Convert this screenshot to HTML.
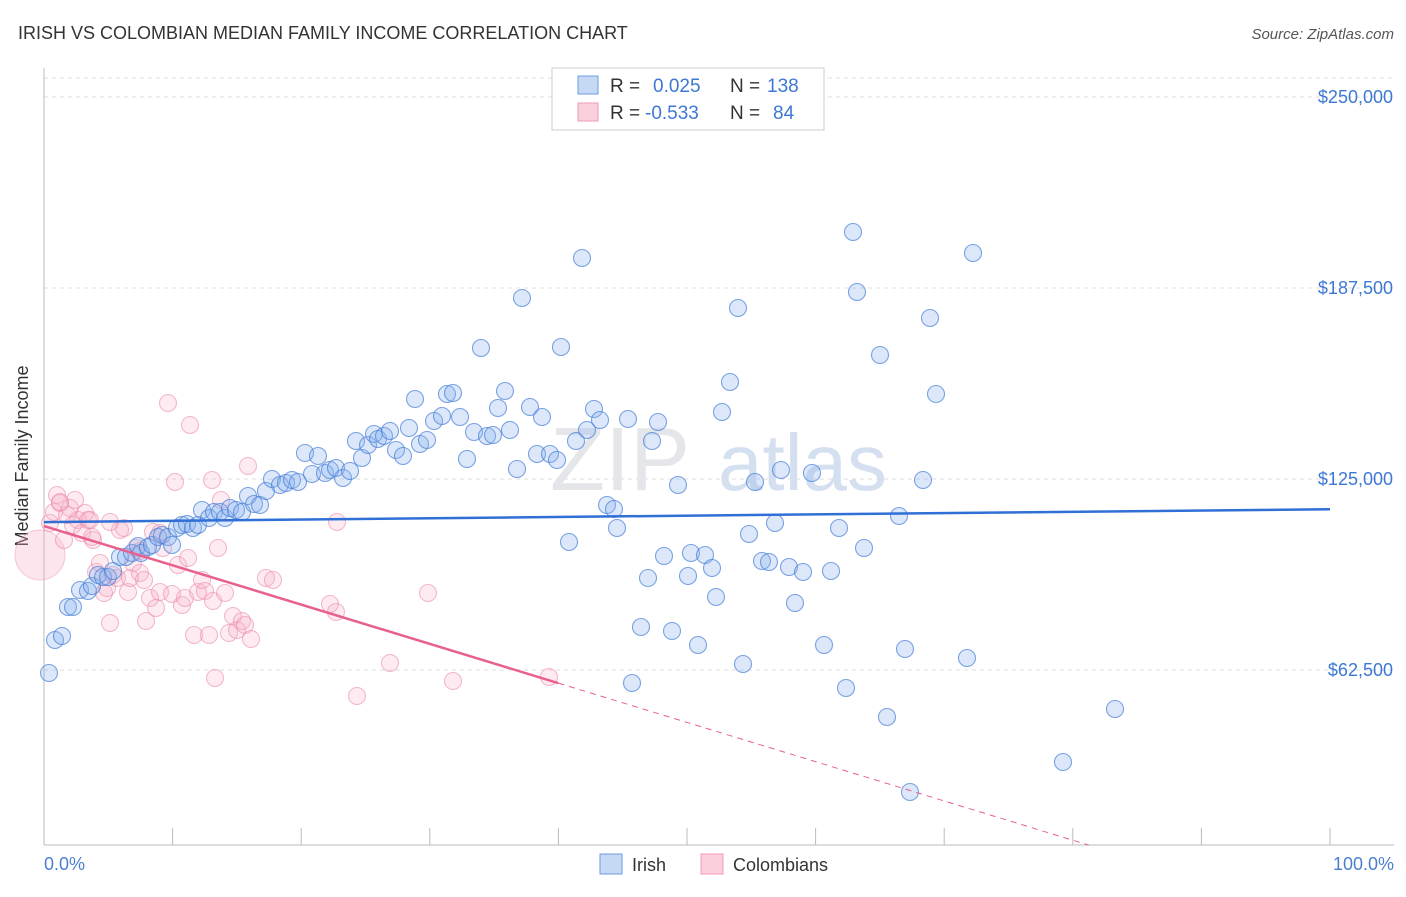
<!DOCTYPE html>
<html><head><meta charset="utf-8"><style>
body{margin:0;background:#fff;font-family:"Liberation Sans",sans-serif;}
svg text{font-family:"Liberation Sans",sans-serif;}
</style></head><body>
<svg width="1406" height="892">
<text x="18" y="39" font-size="18" fill="#333">IRISH VS COLOMBIAN MEDIAN FAMILY INCOME CORRELATION CHART</text>
<text x="1394" y="39" font-size="15" fill="#555" font-style="italic" text-anchor="end">Source: ZipAtlas.com</text>
<g id="grid"></g>
<text x="690" y="490" font-size="90" fill="#e4e6ea" text-anchor="end" font-family="Liberation Serif">ZIP</text>
<text x="718" y="490" font-size="80" fill="#d4e0f0">atlas</text>
<line x1="44" y1="68" x2="44" y2="845" stroke="#bbb"/>
<line x1="44" y1="845" x2="1394" y2="845" stroke="#bbb"/>
<g id="ticks"></g>
<text x="28" y="456" font-size="18" fill="#333" text-anchor="middle" transform="rotate(-90 28 456)">Median Family Income</text>
<text x="44" y="870" font-size="18" fill="#4a7fd0">0.0%</text>
<text x="1394" y="870" font-size="18" fill="#4a7fd0" text-anchor="end">100.0%</text>
<g id="pts"></g>
<g id="trend"></g>
<g>
<rect x="552" y="68" width="272" height="62" fill="#fff" stroke="#ccc"/>
<rect x="578" y="76" width="20" height="18" fill="#c5d9f5" stroke="#6d9be0"/>
<rect x="578" y="103" width="20" height="18" fill="#fbd0dd" stroke="#f09ab5"/>
<text x="610" y="92" font-size="19" fill="#333">R =</text><text x="653" y="92" font-size="19" fill="#3d78d6">0.025</text>
<text x="730" y="92" font-size="19" fill="#333">N =</text><text x="767" y="92" font-size="19" fill="#3d78d6">138</text>
<text x="610" y="119" font-size="19" fill="#333">R =</text><text x="645" y="119" font-size="19" fill="#3d78d6">-0.533</text>
<text x="730" y="119" font-size="19" fill="#333">N =</text><text x="773" y="119" font-size="19" fill="#3d78d6">84</text>
</g>
<g>
<rect x="600" y="854" width="22" height="20" fill="#c5d9f5" stroke="#6d9be0"/>
<text x="632" y="871" font-size="18" fill="#333">Irish</text>
<rect x="701" y="854" width="22" height="20" fill="#fbd0dd" stroke="#f09ab5"/>
<text x="733" y="871" font-size="18" fill="#333">Colombians</text>
</g>
</svg>
<script>
const yTicks=[62500,125000,187500,250000];
const yTickLabels=["$62,500","$125,000","$187,500","$250,000"];
const xTicks=[0,10,20,30,40,50,60,70,80,90,100];
const irishPx=[[49,673],[55,640],[62,636],[68,607],[73,607],[80,590],[88,591],[92,586],[98,575],[103,577],[108,577],[113,571],[120,557],[126,557],[132,553],[138,546],[141,553],[148,547],[152,545],[158,537],[162,535],[168,537],[172,545],[177,528],[182,525],[187,524],[193,528],[198,525],[202,510],[209,518],[214,512],[220,512],[225,518],[230,508],[236,510],[242,512],[248,496],[254,504],[260,505],[266,491],[272,479],[280,485],[286,483],[292,480],[298,482],[305,453],[312,474],[318,456],[325,473],[330,470],[336,468],[343,478],[350,471],[356,441],[362,458],[368,445],[374,434],[378,439],[384,436],[390,431],[396,450],[403,456],[409,428],[415,399],[420,444],[427,440],[434,421],[442,416],[447,394],[453,393],[460,417],[467,459],[474,432],[481,348],[487,436],[493,435],[498,408],[505,391],[510,430],[517,469],[522,298],[530,407],[537,454],[542,417],[550,454],[557,460],[561,347],[569,542],[576,441],[582,258],[587,430],[594,409],[600,420],[607,505],[614,509],[617,528],[628,419],[632,683],[641,627],[648,578],[652,441],[658,422],[664,556],[672,631],[678,485],[688,576],[691,553],[698,645],[705,555],[712,568],[716,597],[722,412],[730,382],[738,308],[743,664],[749,534],[755,482],[762,561],[769,562],[775,523],[781,470],[789,567],[795,603],[803,572],[812,473],[824,645],[831,571],[839,528],[846,688],[853,232],[857,292],[864,548],[880,355],[887,717],[899,516],[905,649],[910,792],[923,480],[930,318],[936,394],[967,658],[973,253],[1063,762],[1115,709]];
const colPx=[[50,523],[54,512],[57,495],[60,503],[64,540],[67,515],[70,508],[73,525],[75,500],[78,520],[82,533],[85,513],[88,520],[90,520],[93,540],[96,572],[100,563],[104,593],[107,588],[110,623],[113,575],[117,578],[120,530],[124,528],[128,592],[130,578],[133,563],[136,548],[140,573],[144,580],[146,621],[150,598],[153,532],[156,608],[160,592],[163,548],[168,403],[172,594],[175,482],[178,565],[182,605],[185,598],[188,558],[190,425],[194,635],[198,592],[202,580],[205,591],[209,635],[212,480],[213,601],[215,678],[218,548],[221,500],[225,593],[229,633],[233,616],[237,630],[242,621],[245,625],[248,466],[251,639],[266,578],[273,580],[330,604],[336,612],[337,522],[357,696],[390,663],[428,593],[453,681],[549,677],[110,522],[60,502],[92,537],[140,551],[160,533]];
const irishX=irishPx.map(p=>(p[0]-44)/12.86), irishY=irishPx.map(p=>(861-p[1])*62500/191);
const colX=colPx.map(p=>(p[0]-44)/12.86), colY=colPx.map(p=>(861-p[1])*62500/191);
const blueTrend=[110900,115100];
const pinkTrend=[109600,-18900];
const X=v=>44+v*12.86, Y=v=>861-v*191/62500;
const NS="http://www.w3.org/2000/svg";
function mk(tag,attrs,parent){const e=document.createElementNS(NS,tag);for(const k in attrs)e.setAttribute(k,attrs[k]);document.getElementById(parent).appendChild(e);return e;}
let g=mk('line',{x1:44,x2:1394,y1:78,y2:78,stroke:'#ddd','stroke-dasharray':'4,4'},'grid');


yTicks.forEach((t,i)=>{
 const l=mk('line',{x1:44,x2:1394,y1:Y(t),y2:Y(t),stroke:'#ddd','stroke-dasharray':'4,4'},'grid');
 
 
 const tx=mk('text',{x:1393,y:Y(t)+6,'font-size':18,fill:'#3d78d6','text-anchor':'end'},'grid');
 tx.textContent=yTickLabels[i];
 
 
});
xTicks.forEach(t=>{
 const l=mk('line',{x1:X(t),x2:X(t),y1:828,y2:845,stroke:'#bbb'},'ticks');
 
 
});
let big=mk('circle',{cx:40,cy:555,r:25,fill:'rgba(244,170,195,0.3)',stroke:'rgba(240,150,180,0.5)'},'pts');


colX.forEach((x,i)=>{
 const c=mk('circle',{cx:X(x),cy:Y(colY[i]),r:8.5,fill:'rgba(246,175,200,0.25)',stroke:'rgba(236,140,172,0.6)','stroke-width':1.1},'pts');
 
 
});
irishX.forEach((x,i)=>{
 const c=mk('circle',{cx:X(x),cy:Y(irishY[i]),r:8.5,fill:'rgba(140,180,240,0.3)',stroke:'rgba(70,125,215,0.7)','stroke-width':1.1},'pts');
 
 
});
let b=mk('line',{x1:X(0),y1:Y(blueTrend[0]),x2:X(100),y2:Y(blueTrend[1]),stroke:'#2f6fd6','stroke-width':2.5},'trend');


const pv=x=>pinkTrend[0]+(pinkTrend[1]-pinkTrend[0])*x/100;
let p1=mk('line',{x1:X(0),y1:Y(pv(0)),x2:X(40),y2:Y(pv(40)),stroke:'#e8608e','stroke-width':2.5},'trend');


const xEnd=(5200-pinkTrend[0])/(pinkTrend[1]-pinkTrend[0])*100;
let p2=mk('line',{x1:X(40),y1:Y(pv(40)),x2:X(xEnd),y2:Y(pv(xEnd)),stroke:'#e8608e','stroke-width':1,'stroke-dasharray':'6,5'},'trend');


</script>
</body></html>
